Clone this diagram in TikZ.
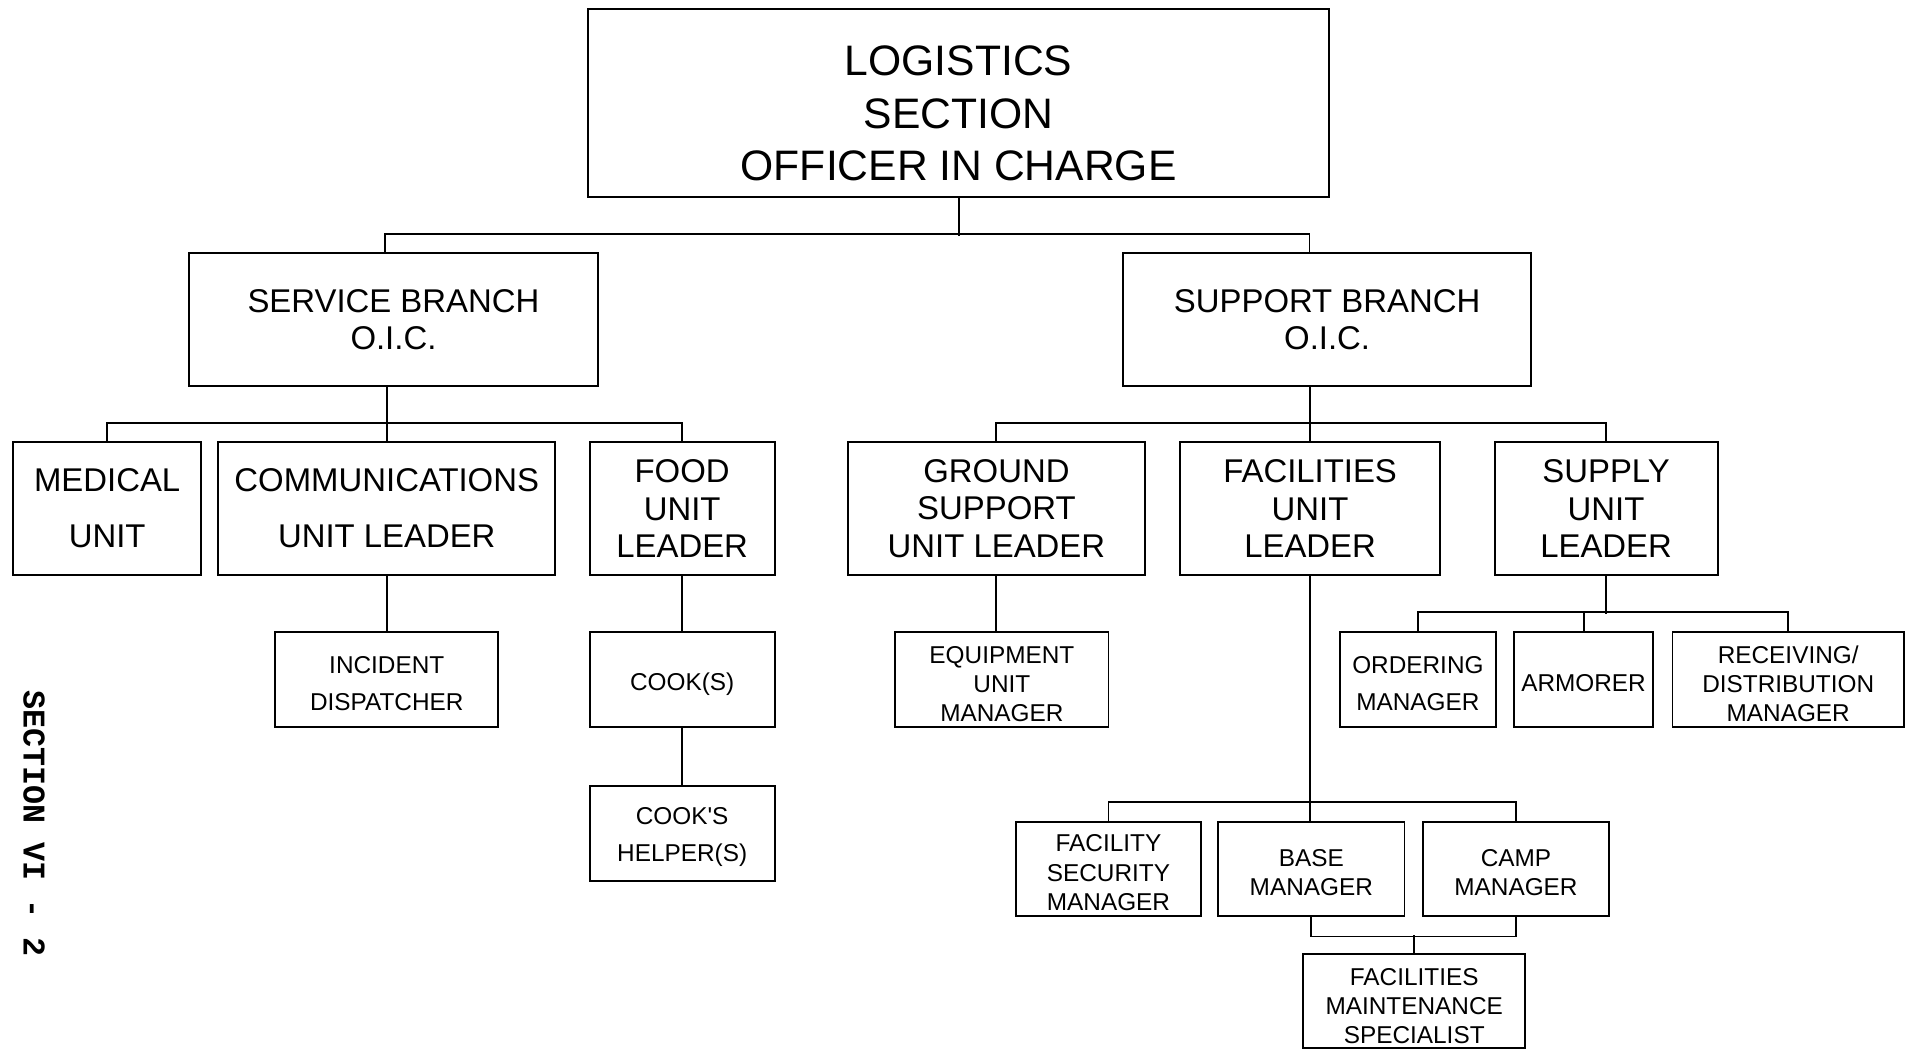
\documentclass[tikz,border=0pt]{standalone}
\usepackage{fontspec}
\setmainfont{Liberation Sans}
\newfontfamily\sidefont{Liberation Mono}
\usetikzlibrary{calc}
\newcommand\liftline[1]{\rule{0pt}{#1}}
\tikzset{
  box/.style={draw,inner sep=0pt,align=center},
  bigtext/.style={font=\fontsize{35}{43}\selectfont},
  midtext/.style={font=\fontsize{27}{31}\selectfont},
  smalltext/.style={font=\fontsize{20}{24}\selectfont}
}

\begin{document}
\begin{tikzpicture}[x=1pt,y=-1pt,line width=1.6pt]
      \useasboundingbox (0,0) rectangle (1568,863);
      \node[box,bigtext,minimum width=608,minimum height=155] (logs) at (787,84.5) {\liftline{42pt}LOGISTICS\\SECTION\\OFFICER IN CHARGE};
      \node[box,midtext,minimum width=336,minimum height=109] (service) at (323,262.5) {SERVICE BRANCH\\O.I.C.};
      \node[box,midtext,minimum width=335,minimum height=109] (support) at (1089.5,262.5) {SUPPORT BRANCH\\O.I.C.};
      \node[box,midtext,minimum width=154,minimum height=109] (medical) at (88,417.5) {MEDICAL\\[15pt]UNIT};
      \node[box,midtext,minimum width=277,minimum height=109] (comms) at (317.5,417.5) {COMMUNICATIONS\\[15pt]UNIT LEADER};
      \node[box,midtext,minimum width=152,minimum height=109] (food) at (560,417.5) {FOOD\\UNIT\\LEADER};
      \node[box,midtext,minimum width=244,minimum height=109] (ground) at (818,417.5) {GROUND\\SUPPORT\\UNIT LEADER};
      \node[box,midtext,minimum width=213,minimum height=109] (facil) at (1075.5,417.5) {FACILITIES\\UNIT\\LEADER};
      \node[box,midtext,minimum width=183,minimum height=109] (supply) at (1318.5,417.5) {SUPPLY\\UNIT\\LEADER};
      \node[box,smalltext,minimum width=183,minimum height=78] (incident) at (317.5,558) {\liftline{20pt}INCIDENT\\[6pt]DISPATCHER};
      \node[box,smalltext,minimum width=152,minimum height=78] (cooks) at (560,558) {\liftline{22pt}COOK(S)};
      \node[box,smalltext,minimum width=152,minimum height=78] (helpers) at (560,684) {\liftline{20pt}COOK\textquotesingle S\\[6pt]HELPER(S)};
      \node[box,smalltext,minimum width=175,minimum height=78] (equip) at (822.5,558) {\liftline{21pt}EQUIPMENT\\UNIT\\MANAGER};
      \node[box,smalltext,minimum width=128,minimum height=78] (ordering) at (1164,558) {\liftline{20pt}ORDERING\\[6pt]MANAGER};
      \node[box,smalltext,minimum width=114,minimum height=78] (armorer) at (1300,558) {\liftline{20pt}ARMORER};
      \node[box,smalltext,minimum width=190,minimum height=78] (receiving) at (1468,558) {\liftline{21pt}RECEIVING/\\DISTRIBUTION\\MANAGER};
      \node[box,smalltext,minimum width=152,minimum height=77] (security) at (910,713.5) {\liftline{20pt}FACILITY\\SECURITY\\MANAGER};
      \node[box,smalltext,minimum width=153,minimum height=77] (base) at (1076.5,713.5) {\liftline{20pt}BASE\\MANAGER};
      \node[box,smalltext,minimum width=153,minimum height=77] (camp) at (1244.5,713.5) {\liftline{20pt}CAMP\\MANAGER};
      \node[box,smalltext,minimum width=182,minimum height=77] (fms) at (1161,821.5) {\liftline{23pt}FACILITIES\\MAINTENANCE\\SPECIALIST};
      \node[font=\sidefont\bfseries\fontsize{26}{30}\selectfont,rotate=-90] (side) at (28,676) {SECTION VI - 2};
      \draw (logs.south) -- ++(0,31);
      \draw ([xshift=-7]service.north) -- ++(0,-15) -| ([xshift=-14.5]support.north);
      \draw (service.south -| comms.north) -- (comms.north);
      \draw (medical.north) -- ++(0,-15) -| (food.north);
      \draw (support.south -| facil.north) -- (facil.north);
      \draw (ground.north) -- ++(0,-15) -| (supply.north);
      \draw (comms.south) -- (incident.north);
      \draw (food.south) -- (cooks.north);
      \draw (cooks.south) -- (helpers.north);
      \draw (ground.south) -- (ground.south |- equip.north);
      \draw (supply.south) -- ++(0,31);
      \draw (ordering.north) -- ++(0,-16) -| (receiving.north);
      \draw (armorer.north) -- ++(0,-16);
      \draw (facil.south) -- (facil.south |- base.north);
      \draw (security.north) -- ++(0,-16) -| (camp.north);
      \draw (base.south) -- ++(0,16) -| (camp.south);
      \draw (fms.north) -- ++(0,-15);
    \end{tikzpicture}
\end{document}
